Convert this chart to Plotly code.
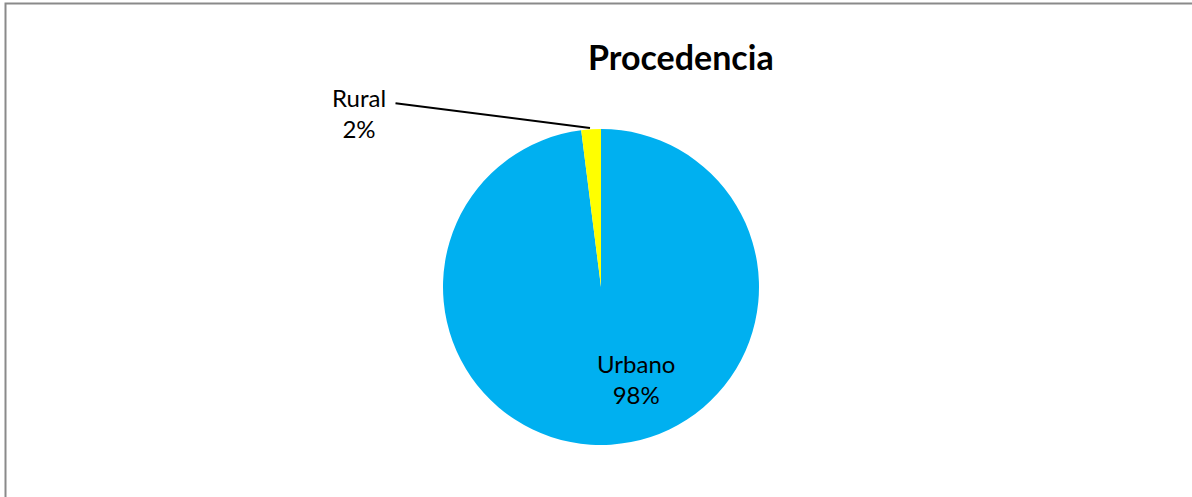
import plotly.graph_objects as go

# ── Data ───────────────────────────────────────────────────────────────────
labels = ["Urbano", "Rural"]
values = [98, 2]
colors = ["#00B0F0", "#FFFF00"]
title = "Procedencia"

W, H = 1192, 497
FONT = "Lato, 'Open Sans', sans-serif"


def px(x, y):
    """pixel position -> paper coords (margins are zero)"""
    return x / W, 1 - y / H


fig = go.Figure()
fig.add_trace(go.Pie(
    labels=labels, values=values,
    marker=dict(colors=colors, line=dict(width=0)),
    sort=False, direction="clockwise", rotation=0,
    textinfo="none", hoverinfo="label+percent",
    domain=dict(x=[(601 - 158) / W, (601 + 158) / W],
                y=[1 - (287 + 158) / H, 1 - (287 - 158) / H]),
    showlegend=False,
))

lbl = dict(xref="paper", yref="paper", xanchor="center", yanchor="middle",
           font=dict(size=24, color="#000", family=FONT))

# Urbano label (inside)
ux, uy = px(636, 379)
fig.add_annotation(x=ux, y=uy, text=f"{labels[0]}<br>{values[0]}%",
                   showarrow=False, **lbl)

# Rural label, outside
rx, ry = px(359, 113)
fig.add_annotation(x=rx, y=ry, text=f"{labels[1]}<br>{values[1]}%",
                   showarrow=False, **lbl)

# leader line from the label to the rural slice
lx, ly = px(590, 128)
fig.add_annotation(x=lx, y=ly, xref="paper", yref="paper", text="",
                   showarrow=True, arrowhead=0, arrowwidth=2,
                   arrowcolor="#000", ax=-196, ay=-25)

tx, ty = px(681, 57)
fig.add_annotation(x=tx, y=ty, text=f"<b>{title}</b>", showarrow=False,
                   xref="paper", yref="paper", xanchor="center",
                   yanchor="middle",
                   font=dict(size=34, color="#000", family=FONT))

# chart border (right and bottom edges fall outside the frame)
fig.add_shape(type="rect", xref="paper", yref="paper",
              x0=5.5 / W, x1=1.08, y0=-0.08, y1=1 - 3.5 / H,
              line=dict(color="#8a8a8a", width=2))

fig.update_layout(
    width=W, height=H,
    margin=dict(l=0, r=0, t=0, b=0),
    paper_bgcolor="white", plot_bgcolor="white",
    font=dict(family=FONT),
)

fig.write_html("out.html", config={"displayModeBar": False},
               post_script="document.body.style.margin='0';")
